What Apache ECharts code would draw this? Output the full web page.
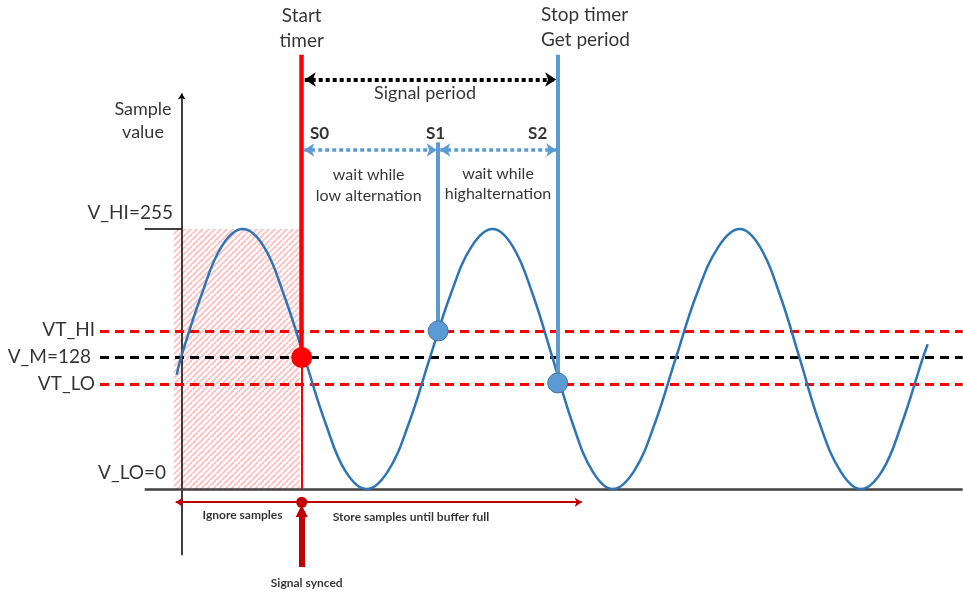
<!DOCTYPE html>
<html><head><meta charset="utf-8">
<script src="https://cdn.jsdelivr.net/npm/echarts@6/dist/echarts.min.js"></script>
<style>html,body{margin:0;padding:0;background:#fff}#c{width:963px;height:594px}</style>
</head><body><div id="c"></div>
<script>
// ---- data (x: time units from the value axis, y: sample value 0..255) ----
const sineX = [-5,-1,20,40,61,82,102,123,144,164,185,206,227,248,269,290,311,331,351,371,391,411,431,452,473,494,515,537,558,578,598,618,638,659,679,700,720,741,746];
const sineV = [112,128,191,238,255,238,191,128,64,17,0,17,64,128,191,238,255,238,191,128,64,17,0,17,64,128,191,238,255,238,191,128,64,17,0,17,64,128,142];
const levelNames = ['VT_HI','V_M=128','VT_LO'];
const levelValues = [155,129,103];
const vHi = 255, vLo = 0;
const startX = 120;            // Start timer / S0
const s1 = [256.5,155];        // S1 point
const s2 = [376,104];          // S2 point / Stop timer
const ignoreRange = [-8,118];  // ignored samples
const storeEnd = 400;
const axisYTop = 388, axisYBottom = -65, axisXLeft = -37, axisXRight = 781;
const lineTop = 426, periodY = 401.6, phaseY = 332.5, s1Top = 340;
const bottomArrowY = -13, syncArrow = [-76.5,-21.6];

const FONT = 'Lato, "Open Sans", sans-serif';
const chart = echarts.init(document.getElementById('c'));

// hatch pattern
const pc = document.createElement('canvas'); pc.width = 6; pc.height = 6;
const g = pc.getContext('2d');
g.fillStyle = '#fff'; g.fillRect(0,0,6,6);
g.strokeStyle = 'rgba(255,165,165,0.7)'; g.lineWidth = 1.9;
[[-6,6],[0,6],[6,6],[-6,12],[0,12]].forEach(([ox,oy])=>{g.beginPath();g.moveTo(ox,oy);g.lineTo(ox+6,oy-6);g.stroke();});

const sineData = sineX.map((x,i)=>[x,sineV[i]]);
const seg = (a,b)=>({coords:[a,b]});

function txt(x,y,text,opt){
  return {value:[x,y],label:Object.assign({show:true,position:'inside',formatter:text,color:'#000',fontFamily:FONT,fontSize:19,lineHeight:25},opt||{})};
}
const texts = [
  txt(startX,451.6,'Start\ntimer',{align:'center'}),
  txt(359.3,453,'Stop timer\nGet period',{align:'left'}),
  txt(243.3,388.4,'Signal period',{align:'center',fontSize:18}),
  txt(-38.7,361,'Sample\nvalue',{align:'center',fontSize:18,lineHeight:23}),
  txt(128.3,349,'S0',{align:'left',fontWeight:'bold',fontSize:17}),
  txt(253.8,349,'S1',{align:'center',fontWeight:'bold',fontSize:17}),
  txt(356,349,'S2',{align:'center',fontWeight:'bold',fontSize:17}),
  txt(187,297.7,'wait while\nlow alternation',{align:'center',fontSize:16,lineHeight:21}),
  txt(316.3,299,'wait while\nhighalternation',{align:'center',fontSize:16,lineHeight:20}),
  txt(-8.7,270.7,'V_HI='+vHi,{align:'right'}),
  txt(-86.7,156,levelNames[0],{align:'right'}),
  txt(-90.7,129.5,levelNames[1],{align:'right'}),
  txt(-86.7,103,levelNames[2],{align:'right'}),
  txt(-15.7,15.7,'V_LO='+vLo,{align:'right'}),
  txt(60.8,-25.5,'Ignore samples',{align:'center',fontSize:12,fontWeight:'bold'}),
  txt(229.3,-27.5,'Store samples until buffer full',{align:'center',fontSize:12,fontWeight:'bold'}),
  txt(125,-92.2,'Signal synced',{align:'center',fontSize:12,fontWeight:'bold'})
];

const option = {
  animation:false,
  grid:{left:0,right:0,top:0,bottom:0},
  xAxis:{type:'value',min:-181.7,max:781.3,show:false},
  yAxis:{type:'value',min:-103,max:479.6,show:false},
  series:[
    { // hatch area holder
      type:'line',data:[],silent:true,
      markArea:{silent:true,itemStyle:{color:{image:pc,repeat:'repeat'},opacity:1},
        data:[[{coord:[ignoreRange[0],vLo]},{coord:[ignoreRange[1],vHi]}]]}
    },
    { // axes
      type:'lines',coordinateSystem:'cartesian2d',silent:true,z:3,
      symbol:['none','none'],
      lineStyle:{color:'#000',width:1.5,opacity:1},
      data:[
        Object.assign(seg([0,axisYBottom],[0,axisYTop]),{symbol:['none','arrow'],symbolSize:6}),
        seg([axisXLeft,vHi],[0,vHi]),
        Object.assign(seg([axisXLeft,0],[axisXRight,0]),{lineStyle:{color:'#404040',width:2.5}})
      ]
    },
    { // threshold dashed lines
      type:'lines',coordinateSystem:'cartesian2d',silent:true,z:3,symbol:'none',
      lineStyle:{width:3,type:[9,6],opacity:1},
      data:levelValues.map((v,i)=>({coords:[[-81.7,v],[axisXRight,v]],lineStyle:{color:i===1?'#000':'#FF0000',width:3,type:[9,6]}}))
    },
    { // sine
      type:'line',data:sineData,smooth:0.4,showSymbol:false,z:4,
      lineStyle:{color:'#2E75B6',width:2.5}
    },
    { // vertical marker lines
      type:'lines',coordinateSystem:'cartesian2d',silent:true,z:5,symbol:'none',
      data:[
        {coords:[[startX,levelValues[1]],[startX,lineTop]],lineStyle:{color:'#FF0000',width:4.5,opacity:1}},
        {coords:[[startX,0],[startX,levelValues[1]]],lineStyle:{color:'#FF0000',width:2,opacity:1}},
        {coords:[s1,[s1[0],s1Top]],lineStyle:{color:'#5B9BD5',width:4,opacity:1}},
        {coords:[s2,[s2[0],lineTop]],lineStyle:{color:'#5B9BD5',width:4,opacity:1}}
      ]
    },
    { // period arrow
      type:'lines',coordinateSystem:'cartesian2d',silent:true,z:6,
      symbol:['arrow','arrow'],symbolSize:11,
      lineStyle:{color:'#000',width:4,type:[4,3],opacity:1},
      data:[{coords:[[startX+3,periodY],[s2[0]-1.5,periodY]]}]
    },
    { // phase arrows
      type:'lines',coordinateSystem:'cartesian2d',silent:true,z:6,
      symbol:['arrow','arrow'],symbolSize:10,
      lineStyle:{color:'#5B9BD5',width:3.5,type:[4,3],opacity:1},
      data:[{coords:[[startX+2.5,phaseY],[s1[0]-1.5,phaseY]]},{coords:[[s1[0]+2,phaseY],[s2[0]-1.5,phaseY]]}]
    },
    { // bottom arrows
      type:'lines',coordinateSystem:'cartesian2d',silent:true,z:6,
      data:[
        {coords:[[startX,bottomArrowY],[-6,bottomArrowY]],symbol:['none','arrow'],symbolSize:7,lineStyle:{color:'#C00000',width:2,opacity:1}},
        {coords:[[startX,bottomArrowY],[storeEnd,bottomArrowY]],symbol:['none','arrow'],symbolSize:7,lineStyle:{color:'#C00000',width:2,opacity:1}},
        {coords:[[startX,syncArrow[0]],[startX,syncArrow[1]]],symbol:['none','triangle'],symbolSize:[14,12],lineStyle:{color:'#C00000',width:6,opacity:1}}
      ]
    },
    { // points
      type:'scatter',silent:true,z:8,
      itemStyle:{opacity:1},
      data:[
        {value:[startX,levelValues[1]],symbolSize:21,itemStyle:{color:'#FF0000',opacity:1}},
        {value:s1,symbolSize:20,itemStyle:{color:'#5B9BD5',borderColor:'#41719C',borderWidth:1,opacity:1}},
        {value:s2,symbolSize:20,itemStyle:{color:'#5B9BD5',borderColor:'#41719C',borderWidth:1,opacity:1}},
        {value:[startX,bottomArrowY],symbolSize:11,itemStyle:{color:'#C00000',opacity:1}}
      ]
    },
    { // texts
      type:'scatter',silent:true,z:9,symbolSize:0,data:texts
    }
  ]
};
chart.setOption(option);
</script></body></html>
